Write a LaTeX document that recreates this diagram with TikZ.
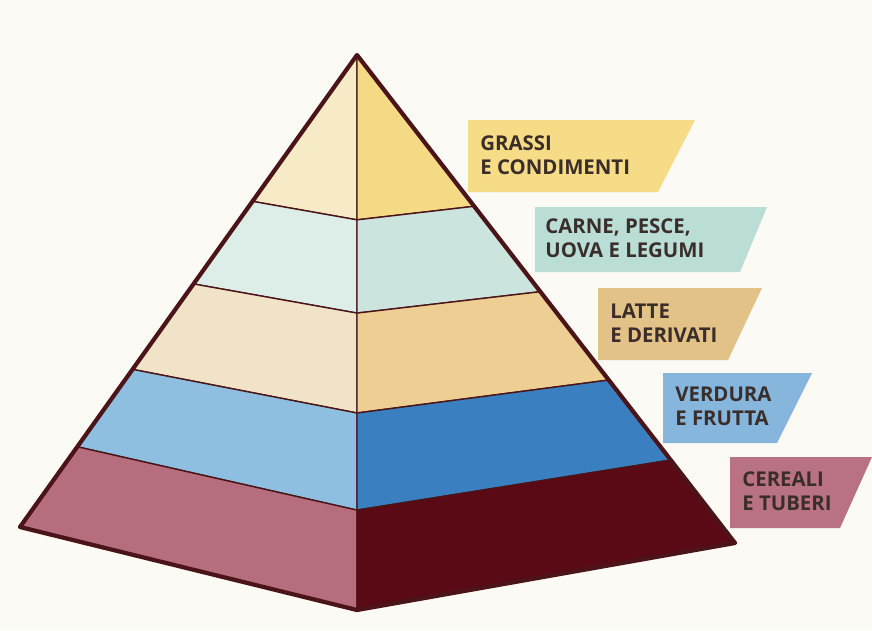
\documentclass[tikz,border=0pt]{standalone}
\usepackage{fontspec}
\setmainfont{Open Sans}
\usepackage{tikz}
\usetikzlibrary{calc}
\definecolor{Paper}{HTML}{FBFAF5}
\definecolor{EdgeBrown}{HTML}{4B1418}
\definecolor{TextBrown}{HTML}{3B2E2A}
\definecolor{GrassiL}{HTML}{F6EBC6}
\definecolor{GrassiR}{HTML}{F5DA86}
\definecolor{CarneL}{HTML}{DDEEE8}
\definecolor{CarneR}{HTML}{CBE4DE}
\definecolor{LatteL}{HTML}{F1E3C7}
\definecolor{LatteR}{HTML}{EDCF93}
\definecolor{VerduraL}{HTML}{8FBFE0}
\definecolor{VerduraR}{HTML}{3A80C1}
\definecolor{CerealiL}{HTML}{B66E7E}
\definecolor{CerealiR}{HTML}{5A0A14}
\definecolor{GrassiTag}{HTML}{F6DC86}
\definecolor{CarneTag}{HTML}{BADDD5}
\definecolor{LatteTag}{HTML}{E3C287}
\definecolor{VerduraTag}{HTML}{86B6DB}
\definecolor{CerealiTag}{HTML}{B97284}

\begin{document}
\begin{tikzpicture}[
    x=0.02cm, y=-0.02cm,
    face/.style={draw=EdgeBrown, line width=0.8pt, line join=round},
    rim/.style={draw=EdgeBrown, line width=2.4pt, line join=round},
    tagtext/.style={anchor=west, align=left, inner sep=0pt, text=TextBrown, font=\fontsize{11.6}{13.6}\selectfont\bfseries}
]
\fill[Paper] (0,0) rectangle (872,630);

% corners of the pyramid
\coordinate (apex) at (357,55);
\coordinate (lc) at (20,527);
\coordinate (fc) at (357,610);
\coordinate (rc) at (735,543);

% layer boundaries
\coordinate (l1) at ($(apex)!0.31!(lc)$);
\coordinate (l2) at ($(apex)!0.485!(lc)$);
\coordinate (l3) at ($(apex)!0.666!(lc)$);
\coordinate (l4) at ($(apex)!0.83!(lc)$);
\coordinate (c1) at ($(apex)!0.297!(fc)$);
\coordinate (c2) at ($(apex)!0.465!(fc)$);
\coordinate (c3) at ($(apex)!0.645!(fc)$);
\coordinate (c4) at ($(apex)!0.82!(fc)$);
\coordinate (r1) at ($(apex)!0.31!(rc)$);
\coordinate (r2) at ($(apex)!0.485!(rc)$);
\coordinate (r3) at ($(apex)!0.666!(rc)$);
\coordinate (r4) at ($(apex)!0.83!(rc)$);

\filldraw[face, fill=GrassiL] (apex) -- (c1) -- (l1) -- cycle;
\filldraw[face, fill=GrassiR] (apex) -- (r1) -- (c1) -- cycle;
\filldraw[face, fill=CarneL] (l1) -- (c1) -- (c2) -- (l2) -- cycle;
\filldraw[face, fill=CarneR] (c1) -- (r1) -- (r2) -- (c2) -- cycle;
\filldraw[face, fill=LatteL] (l2) -- (c2) -- (c3) -- (l3) -- cycle;
\filldraw[face, fill=LatteR] (c2) -- (r2) -- (r3) -- (c3) -- cycle;
\filldraw[face, fill=VerduraL] (l3) -- (c3) -- (c4) -- (l4) -- cycle;
\filldraw[face, fill=VerduraR] (c3) -- (r3) -- (r4) -- (c4) -- cycle;
\filldraw[face, fill=CerealiL] (l4) -- (c4) -- (fc) -- (lc) -- cycle;
\filldraw[face, fill=CerealiR] (c4) -- (r4) -- (rc) -- (fc) -- cycle;
\draw[rim] (apex) -- (lc) -- (fc) -- (rc) -- cycle;

% labels
\fill[GrassiTag] (468,120) -- (695,120) -- (658,192) -- (468,192) -- cycle;
\node[tagtext] (grassi) at (480,155) {GRASSI\\E CONDIMENTI};
\fill[CarneTag] (535,207) -- (767,207) -- (740,272) -- (535,272) -- cycle;
\node[tagtext] (carne) at (545,238) {CARNE, PESCE,\\UOVA E LEGUMI};
\fill[LatteTag] (598,288) -- (762,288) -- (728,360) -- (598,360) -- cycle;
\node[tagtext] (latte) at (610,323) {LATTE\\E DERIVATI};
\fill[VerduraTag] (663,373) -- (812,373) -- (777,443) -- (663,443) -- cycle;
\node[tagtext] (verdura) at (675,406) {VERDURA\\E FRUTTA};
\fill[CerealiTag] (730,457) -- (872,457) -- (840,528) -- (730,528) -- cycle;
\node[tagtext] (cereali) at (742,491) {CEREALI\\E TUBERI};
\end{tikzpicture}
\end{document}
